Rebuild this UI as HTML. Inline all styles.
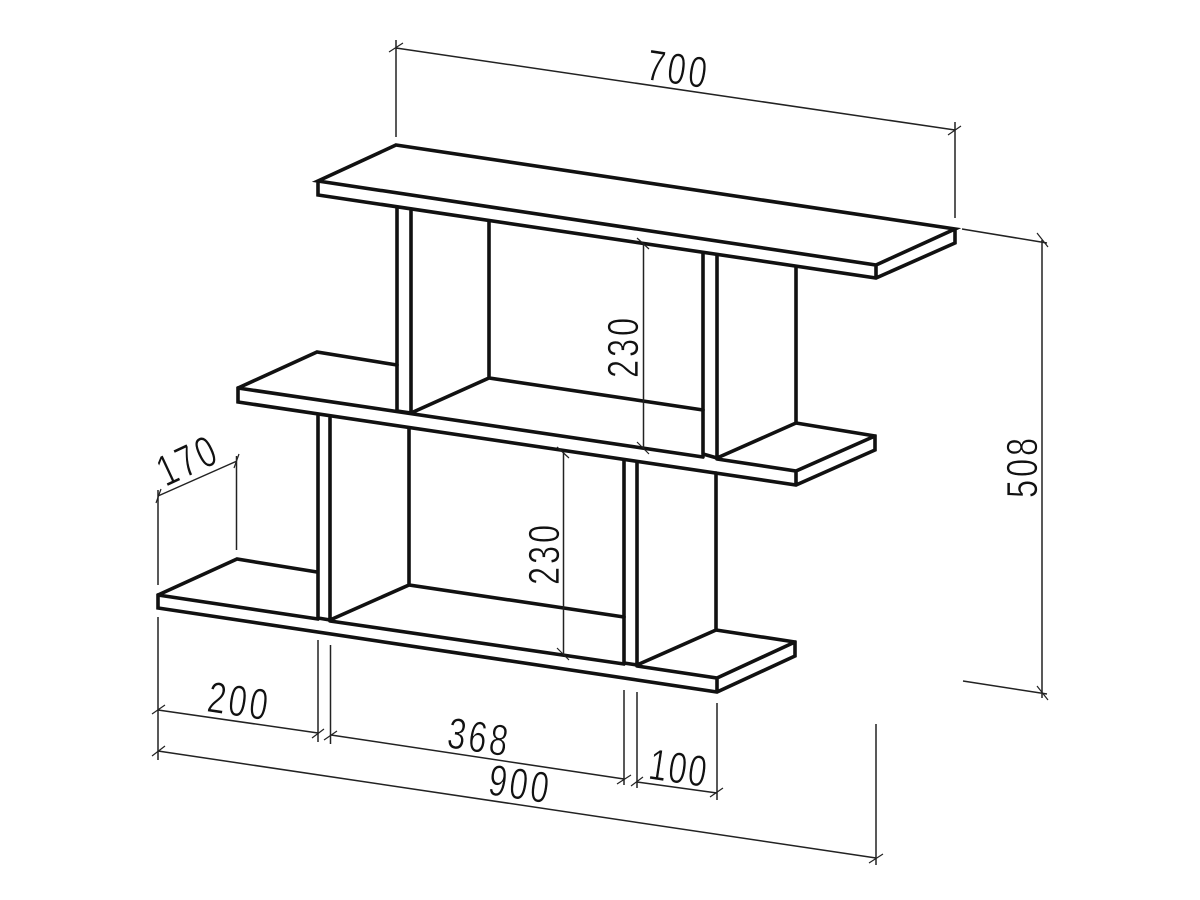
<!DOCTYPE html>
<html><head><meta charset="utf-8"><style>
html,body{margin:0;padding:0;background:#fff;width:1200px;height:900px;overflow:hidden}
svg{display:block}
text{font-family:"Liberation Sans",sans-serif;font-size:44px;fill:#111;stroke:#fff;stroke-width:.7px}
.s{fill:none;stroke:#111;stroke-width:3.6;stroke-linejoin:miter;stroke-linecap:round}
.t{fill:none;stroke:#222;stroke-width:1.5;stroke-linecap:butt}
.k{fill:none;stroke:#222;stroke-width:1.2}
</style></head><body>
<svg width="1200" height="900" viewBox="0 0 1200 900" xmlns="http://www.w3.org/2000/svg">
<g class="s">
<path d="M396 145L955 229L876 265L318 181ZM318 181V195L876 278L955 243V229M876 265V278"/>
<path d="M397 365L317 352L238 388V402L796 485L875 450V436L796 423M238 388L703 457M717 459L796 471L875 436M796 471V485"/>
<path d="M317 572L237 559L158 595V608L717 692L795 656V642L716 630M158 595L318 619M330 621L624 664M637 666L717 678L795 642M717 678V692"/>
<path d="M397 208V411M411 211V413M397 411L411 413M489 221V378M411 413L489 378L703 410"/>
<path d="M703 254V454M717 256V458M703 454L717 458M796 267V423M717 458L796 423"/>
<path d="M318 416V618M330 418V620M318 618L330 620M409 428V585M330 620L409 585L624 617"/>
<path d="M624 461V663M637 463V665M624 663L637 665M716 473V630M637 665L716 630"/>
</g>
<g class="t">
<path d="M396 40V137M955 122V218M396 48L955 130"/>
<path d="M962 229L1047 243M963 681L1047 694M1042 240V698"/>
<path d="M643.5 243V448M563.5 452V654"/>
<path d="M158 490V585M236.500 456V550M158 496L237 461"/>
<path d="M158 617V760M318 640V742M330.500 645V744M624 690V785M637 692V788M717 703V800M876 724V865"/>
<path d="M158 710L318 733M331 735L624 779M637 782L717 793M158 751L876 858"/>
</g>
<g class="k">
<path d="M389 52L403 43M948 135L961 126"/>
<path d="M1037 233L1048 247M1037 686L1048 700"/>
<path d="M637 238L649 249M637 442L649 454M557 447L569 458M557 648L569 660"/>
<path d="M156 503L161 489M234 468L239 454"/>
<path d="M152 714L165 705M312 738L324 729M324 740L337 731M617 784L631 775M631 786L643 777M710 797L723 788M152 756L165 746M869 863L883 854"/>
</g>
<text transform="translate(677,68) rotate(8.5) scale(.74,1)" y="16" x="-40.6 -12.25 16.15">700</text>
<text transform="translate(1021,468) rotate(-90) scale(.74,1)" y="16" x="-40.6 -12.25 16.15">508</text>
<text transform="translate(622,348) rotate(-90) scale(.74,1)" y="16" x="-40.6 -12.25 16.15">230</text>
<text transform="translate(543,555) rotate(-90) scale(.74,1)" y="16" x="-40.6 -12.25 16.15">230</text>
<text transform="translate(186,460) rotate(-25) scale(.74,1)" y="16" x="-40.6 -12.25 16.15">170</text>
<text transform="translate(238,700) rotate(8.5) scale(.74,1)" y="16" x="-40.6 -12.25 16.15">200</text>
<text transform="translate(478,736) rotate(8.5) scale(.74,1)" y="16" x="-40.6 -12.25 16.15">368</text>
<text transform="translate(678,767) rotate(8.5) scale(.74,1)" y="16" x="-39 -12.25 14.5">100</text>
<text transform="translate(519,783) rotate(8.5) scale(.74,1)" y="16" x="-40.6 -12.25 16.15">900</text>
</svg>
</body></html>
